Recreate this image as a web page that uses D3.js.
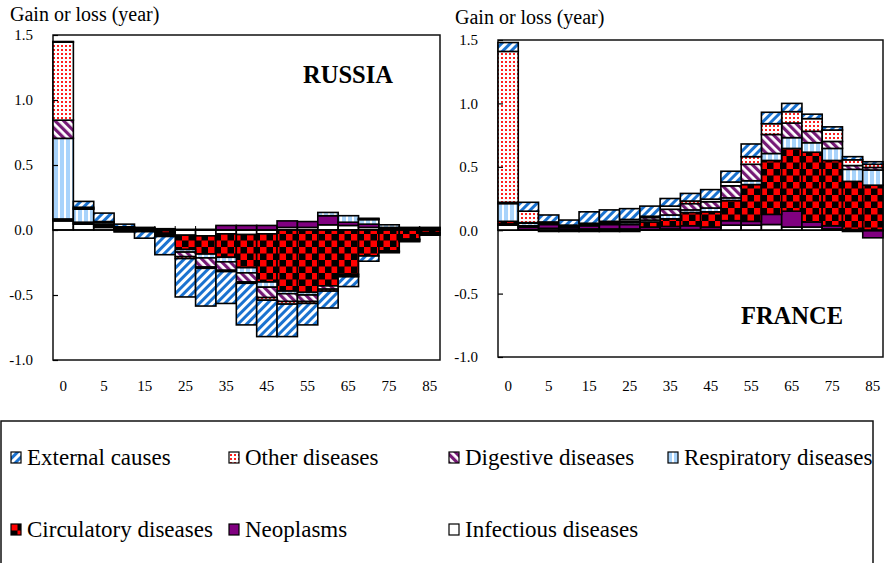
<!DOCTYPE html>
<html>
<head>
<meta charset="utf-8">
<script src="https://cdn.jsdelivr.net/npm/d3@7"></script>
<style>
  body { margin: 0; background: #fff; }
  svg text { font-family: "Liberation Serif", "Times New Roman", Times, serif; fill: #000; }
</style>
</head>
<body>
<div id="chart"></div>
<script>
// age groups (one bar each) and the labels shown on the x axis
var ageGroups = ["0", "1", "5", "10", "15", "20", "25", "30", "35", "40", "45", "50", "55", "60", "65", "70", "75", "80", "85"];
var ageTickLabels = ["0", "5", "15", "25", "35", "45", "55", "65", "75", "85"];
var yTickValues = [-1, -0.5, 0, 0.5, 1, 1.5];

// series order = stacking order (bottom up for gains, top down for losses)
var causes = ["infectious", "neoplasms", "circulatory", "respiratory", "digestive", "other", "external"];
var legendKeys = ["external", "other", "digestive", "respiratory", "circulatory", "neoplasms", "infectious"];
var legendLabels = ["External causes", "Other diseases", "Digestive diseases", "Respiratory diseases",
                    "Circulatory diseases", "Neoplasms", "Infectious diseases"];

// RUSSIA, gain or loss in years by age group
var russiaInfectious  = [0.07, 0.045, 0.02, 0.01, 0.01, -0.005, -0.04, -0.045, -0.03, -0.035, -0.03, 0.02, 0.02, 0.04, 0.035, 0.02, 0.01, 0.005, 0.005];
var russiaNeoplasms   = [0.005, 0.005, 0.01, 0.005, 0.005, 0.01, 0.005, 0.005, 0.035, 0.035, 0.035, 0.05, 0.045, 0.07, 0.025, 0.025, 0.01, 0.01, 0.01];
var russiaCirculatory = [0.01, 0.01, 0.01, 0.005, -0.005, -0.02, -0.11, -0.14, -0.18, -0.255, -0.37, -0.47, -0.48, -0.43, -0.34, -0.2, -0.16, -0.07, -0.02];
var russiaRespiratory = [0.62, 0.1, 0.015, 0.005, -0.005, -0.005, -0.02, -0.03, -0.035, -0.04, -0.04, -0.02, -0.02, 0.025, 0.05, 0.035, 0.02, 0.005, 0.005];
var russiaDigestive   = [0.14, 0.005, 0.005, -0.005, -0.003, -0.01, -0.035, -0.07, -0.065, -0.07, -0.08, -0.06, -0.05, -0.025, -0.01, 0.005, -0.005, -0.005, -0.005];
var russiaOther       = [0.6, 0.01, 0.005, -0.01, 0.005, -0.01, -0.015, -0.01, -0.01, -0.01, -0.02, -0.02, -0.015, -0.015, -0.01, 0.005, -0.005, -0.01, -0.01];
var russiaExternal    = [0.005, 0.045, 0.065, 0.02, -0.05, -0.14, -0.295, -0.29, -0.245, -0.32, -0.28, -0.25, -0.165, -0.13, -0.075, -0.04, -0.005, -0.005, -0.005];

// FRANCE, gain or loss in years by age group
var franceInfectious  = [0.04, 0.005, 0.015, 0.01, 0.01, 0.01, 0.01, 0.005, 0.01, 0.005, 0.005, 0.04, 0.04, 0.045, 0.025, 0.025, 0.01, -0.01, -0.005];
var franceNeoplasms   = [0.01, 0.02, 0.03, 0.015, 0.025, 0.035, 0.035, 0.02, 0.02, 0.03, 0.02, 0.035, 0.03, 0.08, 0.125, 0.04, 0.025, 0.005, -0.055];
var franceCirculatory = [0.02, 0.01, -0.01, -0.01, -0.01, -0.01, -0.01, 0.04, 0.06, 0.105, 0.12, 0.16, 0.29, 0.425, 0.495, 0.55, 0.515, 0.38, 0.355];
var franceRespiratory = [0.14, 0.02, 0.01, 0.005, 0.01, 0.01, 0.015, 0.015, 0.03, 0.02, 0.03, 0.02, 0.03, 0.055, 0.085, 0.075, 0.095, 0.095, 0.12];
var franceDigestive   = [0.01, 0.005, 0.005, 0.005, 0.005, 0.005, 0.01, 0.02, 0.045, 0.05, 0.05, 0.095, 0.13, 0.15, 0.115, 0.09, 0.055, 0.03, 0.02];
var franceOther       = [1.19, 0.09, 0.005, 0.005, 0.005, 0.01, 0.015, 0.01, 0.025, 0.02, 0.02, 0.03, 0.06, 0.085, 0.09, 0.1, 0.09, 0.045, 0.025];
var franceExternal    = [0.07, 0.07, 0.055, 0.04, 0.09, 0.09, 0.085, 0.08, 0.06, 0.06, 0.075, 0.085, 0.1, 0.09, 0.065, 0.035, 0.025, 0.025, 0.02];

var width = 885, height = 563;

var fills = {
    infectious: "#ffffff",
    neoplasms: "#800080",
    circulatory: "url(#p-circ)",
    respiratory: "url(#p-resp)",
    digestive: "url(#p-dig)",
    other: "url(#p-other)",
    external: "url(#p-ext)"
};

var svg = d3.select("#chart")
    .append("svg")
    .attr("width", width)
    .attr("height", height);

makePatterns(svg.append("defs"));

drawPanel({
    rows: buildRows([russiaInfectious, russiaNeoplasms, russiaCirculatory, russiaRespiratory,
                     russiaDigestive, russiaOther, russiaExternal]),
    left: 53, right: 440, top: 35, bottom: 360,
    name: "RUSSIA", nameX: 348, nameY: 83,
    titleX: 10, titleY: 21
});

drawPanel({
    rows: buildRows([franceInfectious, franceNeoplasms, franceCirculatory, franceRespiratory,
                     franceDigestive, franceOther, franceExternal]),
    left: 498, right: 883, top: 40, bottom: 357,
    name: "FRANCE", nameX: 792, nameY: 324,
    titleX: 455, titleY: 24
});

drawLegend();

// turn the per cause arrays into one row per age group for d3.stack
function buildRows(arrays) {
    return ageGroups.map(function(age, i) {
        let row = { age: age };
        causes.forEach(function(c, k) { row[c] = arrays[k][i]; });
        return row;
    });
}

// fill patterns copied from the spreadsheet look
function makePatterns(defs) {
    // blue diagonal stripes "/"
    let ext = defs.append("pattern").attr("id", "p-ext")
        .attr("patternUnits", "userSpaceOnUse")
        .attr("width", 6).attr("height", 6)
        .attr("patternTransform", "rotate(45)");
    ext.append("rect").attr("width", 6).attr("height", 6).attr("fill", "#fff");
    ext.append("rect").attr("width", 3).attr("height", 6).attr("fill", "#1a72d0");

    // purple diagonal stripes "\"
    let dig = defs.append("pattern").attr("id", "p-dig")
        .attr("patternUnits", "userSpaceOnUse")
        .attr("width", 6).attr("height", 6)
        .attr("patternTransform", "rotate(-45)");
    dig.append("rect").attr("width", 6).attr("height", 6).attr("fill", "#fff");
    dig.append("rect").attr("width", 3.2).attr("height", 6).attr("fill", "#761a76");

    // light blue vertical stripes
    let resp = defs.append("pattern").attr("id", "p-resp")
        .attr("patternUnits", "userSpaceOnUse")
        .attr("width", 6).attr("height", 6);
    resp.append("rect").attr("width", 6).attr("height", 6).attr("fill", "#fff");
    resp.append("rect").attr("width", 4).attr("height", 6).attr("fill", "#a8d3fb");

    // red dots
    let other = defs.append("pattern").attr("id", "p-other")
        .attr("patternUnits", "userSpaceOnUse")
        .attr("width", 4).attr("height", 4);
    other.append("rect").attr("width", 4).attr("height", 4).attr("fill", "#fff");
    other.append("rect").attr("x", 1).attr("y", 1).attr("width", 2).attr("height", 2).attr("fill", "#ff2020");

    // red / black checkerboard
    let circ = defs.append("pattern").attr("id", "p-circ")
        .attr("patternUnits", "userSpaceOnUse")
        .attr("width", 13).attr("height", 13);
    circ.append("rect").attr("width", 13).attr("height", 13).attr("fill", "#000");
    circ.append("rect").attr("width", 6.5).attr("height", 6.5).attr("fill", "#ff0000");
    circ.append("rect").attr("x", 6.5).attr("y", 6.5).attr("width", 6.5).attr("height", 6.5).attr("fill", "#ff0000");
}

function drawPanel(p) {
    let x = d3.scaleBand()
        .domain(ageGroups)
        .range([p.left, p.right])
        .padding(0);

    let y = d3.scaleLinear()
        .domain([-1, 1.5])
        .range([p.bottom, p.top]);

    let series = d3.stack()
        .keys(causes)
        .offset(d3.stackOffsetDiverging)(p.rows);

    let g = svg.append("g");

    // plot frame
    g.append("rect")
        .attr("x", p.left).attr("y", p.top)
        .attr("width", p.right - p.left).attr("height", p.bottom - p.top)
        .attr("fill", "none").attr("stroke", "#111").attr("stroke-width", 1.5);

    // stacked segments
    g.selectAll(".layer")
        .data(series)
        .enter().append("g")
        .attr("class", "layer")
        .attr("fill", function(d) { return fills[d.key]; })
        .selectAll("rect")
        .data(function(d) { return d; })
        .enter().append("rect")
        .attr("x", function(d) { return x(d.data.age); })
        .attr("width", x.bandwidth())
        .attr("y", function(d) { return y(Math.max(d[0], d[1])); })
        .attr("height", function(d) { return Math.abs(y(d[0]) - y(d[1])); })
        .attr("stroke", "#000")
        .attr("stroke-width", 1.6);

    // category axis sits on zero
    g.append("line")
        .attr("x1", p.left).attr("x2", p.right)
        .attr("y1", y(0)).attr("y2", y(0))
        .attr("stroke", "#000").attr("stroke-width", 1.5);

    g.selectAll(".xtick")
        .data(ageGroups.slice(1))
        .enter().append("line")
        .attr("class", "xtick")
        .attr("x1", function(d) { return x(d); })
        .attr("x2", function(d) { return x(d); })
        .attr("y1", y(0)).attr("y2", y(0) - 4)
        .attr("stroke", "#000").attr("stroke-width", 1);

    // value axis, ticks pointing inward
    let yAxis = d3.axisLeft(y)
        .tickValues(yTickValues)
        .tickSize(-5)
        .tickPadding(20)
        .tickFormat(function(d) { return d.toFixed(1); });

    let ya = g.append("g")
        .attr("transform", "translate(" + p.left + ",0)")
        .call(yAxis);
    ya.select(".domain").remove();
    ya.selectAll("line").attr("stroke", "#000").attr("stroke-width", 1.2);
    ya.selectAll("text")
        .attr("font-size", 15)
        .attr("fill", "#000");

    // age labels on every other category
    g.selectAll(".xlabel")
        .data(ageTickLabels)
        .enter().append("text")
        .attr("class", "xlabel")
        .attr("x", function(d) { return x(d) + x.bandwidth() / 2; })
        .attr("y", 391)
        .attr("text-anchor", "middle")
        .attr("font-size", 15)
        .text(function(d) { return d; });

    g.append("text")
        .attr("x", p.titleX).attr("y", p.titleY)
        .attr("font-size", 20)
        .text("Gain or loss (year)");

    g.append("text")
        .attr("x", p.nameX).attr("y", p.nameY)
        .attr("text-anchor", "middle")
        .attr("font-size", 24.5)
        .attr("font-weight", "bold")
        .text(p.name);
}

function drawLegend() {
    let lg = svg.append("g");

    lg.append("rect")
        .attr("x", 1).attr("y", 421)
        .attr("width", 872).attr("height", 170)
        .attr("fill", "none").attr("stroke", "#111").attr("stroke-width", 1.5);

    let colX = [11, 229, 449, 668],
        rowY = [465, 537];

    let item = lg.selectAll(".item")
        .data(legendKeys)
        .enter().append("g")
        .attr("class", "item")
        .attr("transform", function(d, i) {
            return "translate(" + colX[i % 4] + "," + rowY[Math.floor(i / 4)] + ")";
        });

    item.append("rect")
        .attr("x", 0).attr("y", -13)
        .attr("width", 10).attr("height", 11)
        .attr("fill", function(d) { return fills[d]; })
        .attr("stroke", "#000").attr("stroke-width", 1.2);

    item.append("text")
        .attr("x", 16).attr("y", 0)
        .attr("font-size", 23)
        .text(function(d, i) { return legendLabels[i]; });
}
</script>
</body>
</html>
